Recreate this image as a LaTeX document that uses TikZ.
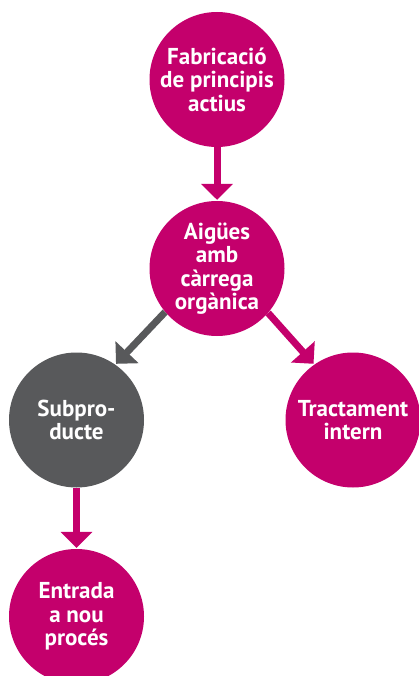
\documentclass[tikz,border=0pt]{standalone}
\usepackage{fontspec}
\setmainfont{PT Sans}
\usetikzlibrary{arrows.meta}
\definecolor{mag}{HTML}{C4006C}
\definecolor{gry}{HTML}{58595B}
\begin{document}
\begin{tikzpicture}[x=1pt,y=-1pt,
  bub/.style={circle,fill=mag,minimum size=135pt,inner sep=0pt,text=white,
    align=center,font=\bfseries\fontsize{23}{23.5}\selectfont},
  arr/.style={line width=7pt,draw=mag,-{Triangle[width=31pt,length=16pt]},shorten >=1pt}]
\useasboundingbox (0,0) rectangle (418,676);
\node[bub] (a) at (217,79.5) {Fabricació\\de principis\\actius};
\node[bub] (b) at (217,268.5) {Aigües\\amb\\càrrega\\orgànica};
\node[bub,fill=gry] (c) at (76.5,420) {Subpro-\\ducte};
\node[bub] (d) at (353,420) {Tractament\\intern};
\node[bub] (e) at (76.5,616.5) {Entrada\\a nou\\procés};
\draw[arr] (a.south) -- (b.north);
\draw[arr,draw=gry] (b.220) -- (c.55);
\draw[arr] (b.319) -- (d.125);
\draw[arr] (c.south) -- (e.north);
\end{tikzpicture}
\end{document}
